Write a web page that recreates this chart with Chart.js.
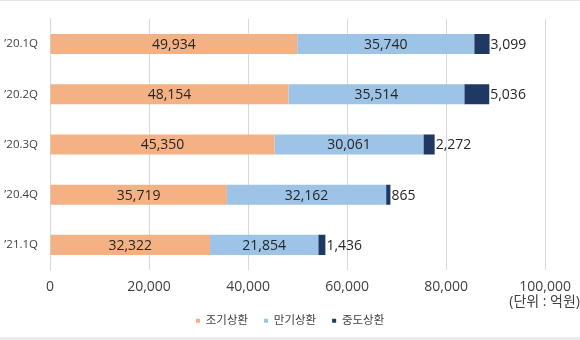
<!DOCTYPE html>
<html>
<head>
<meta charset="utf-8">
<script src="https://cdn.jsdelivr.net/npm/chart.js@4/dist/chart.umd.min.js"></script>
<style>
  html, body { margin: 0; padding: 0; background: #fff; }
  #wrap { position: relative; width: 580px; height: 340px; overflow: hidden; }
  #wrap::before { content: ""; position: absolute; left: 0; top: 0; width: 580px; height: 1px; background: #e6e6e6; }
  #wrap::after { content: ""; position: absolute; left: 0; bottom: 0; width: 580px; height: 3px; background: #ececec; }
  canvas { display: block; }
</style>
</head>
<body>
<div id="wrap"><canvas id="chart" width="580" height="340"></canvas></div>
<script>
// Quarterly redemptions by type (unit: 억원)
const quarters = ['\u201920.1Q', '\u201920.2Q', '\u201920.3Q', '\u201920.4Q', '\u201921.1Q'];
const earlyRedemption = [49934, 48154, 45350, 35719, 32322];
const maturityRedemption = [35740, 35514, 30061, 32162, 21854];
const midtermRedemption = [3099, 5036, 2272, 865, 1436];
const seriesNames = ['조기상환', '만기상환', '중도상환'];
const xTicks = [0, 20000, 40000, 60000, 80000, 100000];
const unitLabel = '(단위 : 억원)';

const FONT = '"Open Sans", "Noto Sans CJK KR", sans-serif';
const TEXT = '#404040';
const fmt = v => v.toLocaleString('en-US');

// Value labels: inside the bar for the first two series, after the bar end for the last
const valueLabels = {
  id: 'valueLabels',
  afterDatasetsDraw(chart) {
    const ctx = chart.ctx;
    ctx.save();
    ctx.font = '14px ' + FONT;
    ctx.fillStyle = '#262626';
    ctx.textBaseline = 'middle';
    chart.data.datasets.forEach((ds, i) => {
      const meta = chart.getDatasetMeta(i);
      meta.data.forEach((bar, j) => {
        const v = ds.data[j];
        if (i < 2) {
          ctx.textAlign = 'center';
          ctx.fillText(fmt(v), (bar.x + bar.base) / 2, bar.y + 1);
        } else {
          ctx.textAlign = 'left';
          ctx.fillText(fmt(v), bar.x + 1, bar.y + 1);
        }
      });
    });
    ctx.restore();
  }
};

// Legend row placed under the centre of the page; unit note under the value axis end
const unitNote = {
  id: 'unitNote',
  afterLayout(chart) {
    const lg = chart.legend;
    const w = lg.width, h = lg.height;
    lg.left = 180; lg.right = lg.left + w;
    lg.top = 299; lg.bottom = lg.top + h;
  },
  afterDraw(chart) {
    const ctx = chart.ctx;
    ctx.save();
    ctx.font = '14px ' + FONT;
    ctx.fillStyle = TEXT;
    ctx.textAlign = 'right';
    ctx.textBaseline = 'middle';
    ctx.fillText(unitLabel, 580, 302);
    ctx.restore();
  }
};

new Chart(document.getElementById('chart'), {
  type: 'bar',
  data: {
    labels: quarters,
    datasets: [
      { label: seriesNames[0], data: earlyRedemption, backgroundColor: '#F4B183' },
      { label: seriesNames[1], data: maturityRedemption, backgroundColor: '#9DC3E6' },
      { label: seriesNames[2], data: midtermRedemption, backgroundColor: '#203864' }
    ]
  },
  options: {
    indexAxis: 'y',
    responsive: false,
    animation: false,
    devicePixelRatio: 1,
    layout: { padding: { top: 18, right: 34, left: 0, bottom: 6 } },
    datasets: { bar: { categoryPercentage: 0.8, barPercentage: 0.5 } },
    scales: {
      x: {
        stacked: true,
        min: 0,
        max: 100000,
        afterBuildTicks(scale) { scale.ticks = xTicks.map(v => ({ value: v })); },
        afterFit(scale) { scale.height = 26.5; },
        grid: { color: '#d9d9d9', drawTicks: false },
        border: { display: false },
        ticks: {
          padding: 9,
          color: TEXT,
          font: { family: FONT, size: 14 },
          callback: v => fmt(v)
        }
      },
      y: {
        stacked: true,
        afterFit(scale) { scale.width = 50; },
        grid: { display: false, drawTicks: false },
        border: { display: true, color: '#d9d9d9' },
        ticks: {
          padding: 12,
          color: TEXT,
          font: { family: FONT, size: 11.5 }
        }
      }
    },
    plugins: {
      legend: {
        position: 'bottom',
        align: 'start',
        labels: {
          boxWidth: 4,
          boxHeight: 4,
          padding: 16,
          color: TEXT,
          font: { family: FONT, size: 11.5 }
        }
      },
      tooltip: { enabled: false }
    }
  },
  plugins: [valueLabels, unitNote]
});
</script>
</body>
</html>
